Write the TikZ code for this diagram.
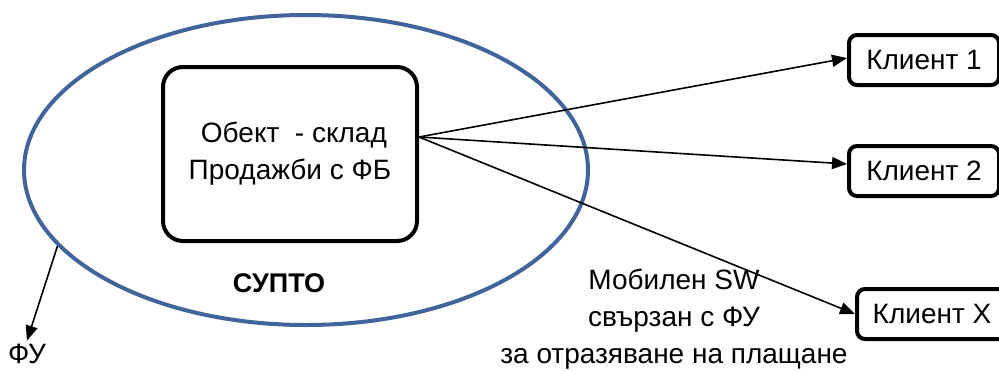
\documentclass[tikz,border=0pt]{standalone}
\usepackage{fontspec}
\setmainfont{Liberation Sans}
\usepackage{xcolor}
\usepackage{tikz}
\usetikzlibrary{shapes.geometric, arrows.meta, positioning}
\definecolor{suptoblue}{HTML}{41659A}

\begin{document}
\begin{tikzpicture}[x=1pt, y=-1pt, font=\fontsize{28}{37}\selectfont,
    clientbox/.style={draw, line width=4pt, rounded corners=8pt, minimum width=150pt, minimum height=50pt, anchor=west},
    sendarrow/.style={line width=1.6pt, -{Triangle[length=15pt, width=12pt]}}]
\useasboundingbox (0,0) rectangle (999,370);
\node[draw=suptoblue, line width=4pt, ellipse, minimum width=564pt, minimum height=310pt] (supto) at (306,170) {};
\node[draw, line width=4pt, rounded corners=20pt, minimum width=254pt, minimum height=174pt, align=center] (store) at (290,154) {\ Обект \ - склад\\Продажби с ФБ};
\node[font=\fontsize{27}{37}\selectfont\bfseries] (suptolabel) at (279,283) {СУПТО};
\node[clientbox] (client1) at (847,60) {Клиент 1};
\node[clientbox] (client2) at (847,171) {Клиент 2};
\node[clientbox] (clientx) at (855,314) {Клиент X};
\node (fu) at (27,354) {ФУ};
\node[align=center] (mobile) at (674,319) {Мобилен SW\\свързан с ФУ\\за отразяване на плащане};
\draw[sendarrow] ([yshift=17pt]store.east) -- ([yshift=2pt]client1.west);
\draw[sendarrow] ([yshift=17pt]store.east) -- ([yshift=7pt]client2.west);
\draw[sendarrow] ([yshift=17pt]store.east) -- (clientx.west);
\draw[sendarrow] (supto.197) -- (fu.north);
\end{tikzpicture}
\end{document}
